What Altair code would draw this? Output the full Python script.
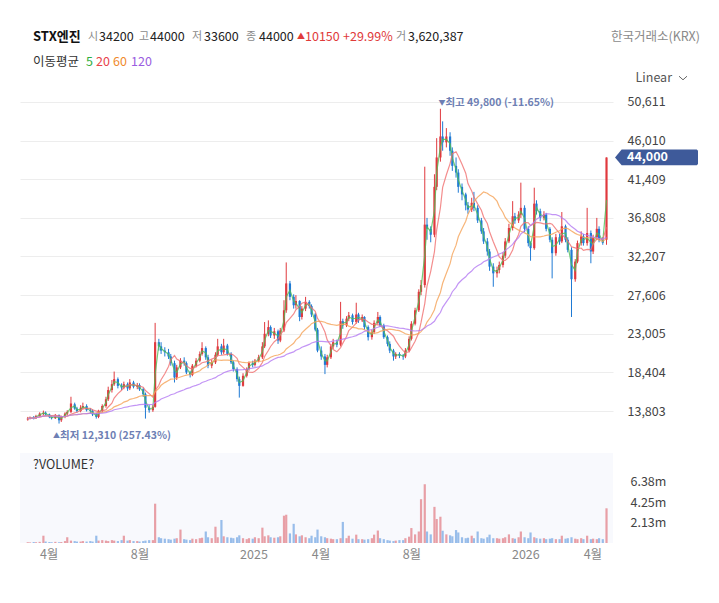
import altair as alt
import numpy as np
import pandas as pd

FONT = "Noto Sans CJK KR"

# ---- candles (3 trading days per candle) ----
OPEN = [
    12800, 12900, 13050, 12950, 13200, 13450, 13600, 13400, 13100, 12950,
    13300, 12700, 13100, 13500, 13700, 14600, 14100, 13800, 14200, 14400,
    13900, 13800, 13400, 13100, 13800, 14400, 15200, 16300, 17000, 17600,
    16800, 16600, 17000, 16500, 17200, 16700, 16900, 16400, 15800, 14200,
    13900, 14300, 22000, 21500, 21000, 20800, 20300, 19500, 17800, 19000,
    19800, 19500, 18400, 18100, 19200, 19800, 20600, 21300, 20200, 19200,
    19600, 20500, 21500, 20800, 21600, 20600, 19600, 18800, 17600, 16800,
    18000, 18800, 19500, 19300, 19800, 20200, 21500, 23000, 23800, 22800,
    23300, 22200, 23400, 25800, 29000, 27400, 26400, 26900, 25000, 26000,
    26800, 26300, 25300, 23500, 21000, 20300, 19300, 20200, 21500, 22000,
    21700, 24500, 24000, 24800, 25200, 24400, 25300, 24600, 25000, 23800,
    22600, 23200, 24300, 25000, 24000, 22600, 21800, 21000, 20300, 20600,
    20400, 20300, 21000, 22400, 24200, 25800, 28000, 28800, 36000, 35500,
    34800, 40500, 44000, 46500, 45800, 46500, 44800, 43000, 42200, 40500,
    39600, 38300, 37800, 38600, 38000, 36500, 35200, 34000, 32800, 31000,
    30200, 30600, 31200, 32300, 34000, 35600, 37000, 36500, 37200, 38000,
    35500, 33800, 33200, 38500, 37600, 36800, 37200, 35500, 34200, 32600,
    34500, 34000, 35800, 34200, 33000, 29500, 31600, 33800, 34600, 33800,
    35000, 32800, 34500, 35500, 34200, 34200,
]
HIGH = [
    13100, 13150, 13200, 13350, 13650, 13850, 13750, 13500, 13250, 13450,
    13400, 13250, 13650, 13900, 15500, 14800, 14300, 14500, 14800, 14600,
    14150, 14000, 13600, 13950, 14600, 15500, 16700, 17500, 18500, 17800,
    17100, 17300, 17200, 17600, 17400, 17150, 17100, 16600, 16000, 14500,
    14500, 24300, 22400, 22000, 21400, 21200, 20600, 19800, 19300, 20100,
    20200, 19700, 18600, 19400, 20100, 20900, 22000, 21500, 20500, 19900,
    20800, 22400, 21800, 22400, 21800, 20800, 19800, 19000, 17900, 18300,
    19000, 19700, 19800, 20000, 20500, 22000, 24400, 24600, 24000, 23700,
    23500, 23700, 27000, 31500, 29300, 27700, 27600, 27000, 26300, 27400,
    27000, 26500, 25500, 23700, 21500, 20600, 20500, 21800, 22400, 22300,
    26800, 24800, 25100, 25600, 25400, 26700, 25500, 25300, 25100, 24000,
    23500, 24600, 25600, 25200, 24200, 22800, 22100, 21200, 20800, 20800,
    20600, 21300, 22700, 24500, 26100, 28300, 29400, 42900, 36800, 35800,
    42000, 46300, 49800, 48300, 47500, 47000, 45200, 44000, 42600, 40900,
    39800, 38700, 39200, 39900, 38300, 36800, 35600, 34400, 33100, 31400,
    31000, 31600, 32700, 34400, 36100, 38800, 37400, 37600, 41000, 38300,
    35800, 34000, 40400, 38900, 37900, 37600, 37400, 35700, 34500, 34900,
    34900, 37500, 36000, 34500, 33300, 31900, 34100, 35200, 34900, 38000,
    35300, 34800, 36800, 35800, 34500, 44000,
]
LOW = [
    12650, 12800, 12800, 12850, 13100, 13300, 13250, 12950, 12800, 12850,
    12310, 12500, 12950, 13300, 13550, 13950, 13600, 13650, 14000, 13750,
    13550, 13200, 12900, 12950, 13650, 14200, 15000, 16000, 16800, 16500,
    16300, 16400, 16200, 16300, 16500, 16400, 16200, 15500, 12900, 13600,
    13700, 14200, 21000, 20600, 20300, 20000, 19200, 17200, 17500, 18800,
    19200, 18200, 17800, 17950, 19000, 19600, 20400, 19900, 18900, 18900,
    19400, 20300, 20500, 20600, 20400, 19400, 18500, 17300, 15400, 16700,
    17800, 18600, 19000, 19100, 19600, 20000, 21300, 22700, 22500, 22400,
    21800, 22000, 23200, 25500, 27000, 26000, 26000, 24500, 24700, 25700,
    26000, 25000, 23300, 20800, 19900, 18200, 19000, 20000, 21200, 21400,
    21500, 23600, 23800, 24500, 24100, 24200, 24300, 24400, 23500, 22200,
    22300, 23000, 24100, 23800, 22400, 21500, 20700, 19800, 20000, 20100,
    19900, 20100, 20800, 22200, 24000, 25600, 27600, 28500, 34200, 33900,
    34500, 40100, 43500, 44800, 45200, 44200, 42400, 41600, 39800, 38900,
    37700, 37300, 37500, 37600, 36200, 34900, 33700, 32300, 30500, 28600,
    29700, 30200, 30900, 32000, 33800, 35300, 36100, 36200, 36800, 35100,
    33400, 31700, 33000, 37200, 36400, 36500, 35200, 33900, 29600, 32300,
    33600, 33800, 33900, 32700, 25000, 29200, 31400, 33500, 33500, 33500,
    31400, 32500, 34200, 33900, 33600, 33600,
]
CLOSE = [
    12900, 13000, 12950, 13200, 13500, 13600, 13400, 13100, 12950, 13300,
    12700, 13100, 13500, 13700, 14700, 14100, 13800, 14200, 14400, 13900,
    13800, 13400, 13100, 13800, 14400, 15200, 16300, 17000, 17600, 16800,
    16600, 17000, 16500, 17200, 16700, 16900, 16400, 15800, 14200, 13900,
    14300, 22000, 21500, 21000, 20800, 20300, 19500, 17800, 19000, 19800,
    19500, 18400, 18100, 19200, 19800, 20600, 21300, 20200, 19200, 19600,
    20500, 21500, 20800, 21600, 20600, 19600, 18800, 17600, 16800, 18000,
    18800, 19500, 19300, 19800, 20200, 21500, 23000, 23800, 22800, 23300,
    22200, 23400, 25800, 29000, 27400, 26400, 26900, 25000, 26000, 26800,
    26300, 25300, 23500, 21000, 20300, 19300, 20200, 21500, 22000, 21700,
    24500, 24000, 24800, 25200, 24400, 25300, 24600, 25000, 23800, 22600,
    23200, 24300, 25000, 24000, 22600, 21800, 21000, 20300, 20600, 20400,
    20300, 21000, 22400, 24200, 25800, 28000, 28800, 36000, 35500, 34800,
    40500, 44000, 46500, 45800, 46500, 44800, 43000, 42200, 40500, 39600,
    38300, 37800, 38600, 38000, 36500, 35200, 34000, 32800, 31000, 30200,
    30600, 31200, 32300, 34000, 35600, 37000, 36500, 37200, 38000, 35500,
    33800, 33200, 38500, 37600, 36800, 37200, 35500, 34200, 32600, 34500,
    34000, 35800, 34200, 33000, 29500, 31600, 33800, 34600, 33800, 35000,
    32800, 34500, 35500, 34200, 33850, 44000,
]
VOLUME_M = [
    0.08, 0.06, 0.10, 0.08, 0.12, 0.76, 0.15, 0.10, 0.08, 0.12,
    0.08, 0.10, 0.20, 0.60, 0.25, 0.20, 0.15, 0.15, 0.20, 0.15,
    0.20, 0.15, 0.76, 0.25, 0.30, 0.25, 0.20, 0.30, 0.25, 0.20,
    0.30, 0.76, 0.25, 0.30, 0.20, 0.20, 0.15, 0.20, 0.25, 0.30,
    0.30, 4.10, 0.60, 0.50, 0.45, 0.40, 0.35, 0.45, 0.50, 1.40,
    0.40, 0.35, 0.30, 0.45, 0.40, 0.50, 0.55, 1.20, 0.60, 0.50,
    1.70, 0.60, 2.40, 0.70, 0.60, 0.55, 0.50, 0.60, 0.80, 0.50,
    0.40, 0.50, 0.45, 0.60, 0.50, 1.60, 0.70, 0.80, 0.60, 0.55,
    0.60, 0.70, 2.85, 2.95, 1.00, 2.00, 0.90, 0.70, 0.80, 0.60,
    0.50, 0.76, 0.60, 1.40, 0.70, 0.60, 0.50, 0.45, 0.40, 0.40,
    0.50, 2.20, 0.50, 0.76, 0.45, 0.87, 0.40, 0.40, 0.35, 0.40,
    0.50, 0.87, 1.30, 0.50, 0.40, 0.30, 0.25, 0.20, 0.25, 0.30,
    0.30, 0.50, 0.66, 1.56, 0.90, 1.20, 4.57, 6.13, 1.20, 0.90,
    3.77, 2.50, 2.74, 1.28, 0.90, 0.80, 0.70, 1.35, 1.10, 0.60,
    0.50, 0.55, 0.76, 0.50, 1.20, 0.50, 0.45, 0.60, 0.87, 0.50,
    0.50, 0.45, 0.50, 0.60, 0.90, 0.50, 0.45, 0.60, 1.20, 0.60,
    0.50, 1.10, 0.60, 0.50, 0.45, 0.50, 0.40, 0.45, 0.50, 0.40,
    0.40, 0.76, 0.45, 0.50, 0.60, 0.45, 0.40, 0.50, 0.40, 0.76,
    0.40, 0.45, 0.40, 0.50, 0.40, 3.620387,
]

Y_TICKS = [13803, 18404, 23005, 27606, 32207, 36808, 41409, 46010, 50611]
VOL_TICKS = [2.13, 4.25, 6.38]
MONTH_TICKS = [(2024, 4), (2024, 8), (2025, 1), (2025, 4), (2025, 8), (2026, 1), (2026, 4)]
MA_DAYS = [5, 20, 60, 120]
MA_COLORS = ["#4fbf58", "#f07070", "#f5a257", "#b47af2"]
MA_TEXT_COLORS = ["#2fae3c", "#e8424a", "#f08a2c", "#9a5de0"]

RED = "#e0393e"
BLUE = "#1f7ad4"
ANN = "#6e7fb4"
TAG = "#3e5a9a"

# ---- table ----
dates = pd.bdate_range(end="2026-04-20", periods=3 * (len(CLOSE) - 1) + 1)[::3]
df = pd.DataFrame({
    "date": dates.strftime("%Y-%m-%dT%H:%M:%S"),
    "open": OPEN, "high": HIGH, "low": LOW, "close": CLOSE, "vol": VOLUME_M,
})
df["dir"] = np.where(df["close"] >= df["open"], "up", "down")

xscale = alt.Scale(domain=[alt.DateTime(year=2024, month=2, date=29, hours=7),
                           alt.DateTime(year=2026, month=4, date=22)])
yscale = alt.Scale(domain=[9398, 60372], nice=False, zero=False)
yaxis = alt.Axis(orient="right", values=Y_TICKS, format=",d", grid=True,
                 gridColor="#ededed", gridWidth=1, ticks=False, tickSize=0,
                 domain=False, labelPadding=14, labelFontSize=12.5,
                 labelColor="#444", labelFont=FONT, title=None)


def X():
    return alt.X("date:T", scale=xscale, axis=None)


def Yp(field):
    return alt.Y(f"{field}:Q", scale=yscale, axis=yaxis)


base = alt.Chart(df)
layers = []
for d, col in [("up", RED), ("down", BLUE)]:
    layers.append(base.transform_filter(alt.datum.dir == d)
                  .mark_rule(color=col, strokeWidth=1)
                  .encode(x=X(), y=Yp("low"), y2="high:Q"))
for d, col in [("up", RED), ("down", BLUE)]:
    layers.append(base.transform_filter(alt.datum.dir == d)
                  .mark_bar(color=col, size=2.2)
                  .encode(x=X(), y=Yp("open"), y2="close:Q"))
for days, col in zip(MA_DAYS, MA_COLORS):
    n = max(1, round(days / 3))
    layers.append(base.transform_window(ma="mean(close)", frame=[-(n - 1), 0],
                                        sort=[alt.SortField("date")])
                  .mark_line(color=col, strokeWidth=1.2, opacity=0.8)
                  .encode(x=X(), y=Yp("ma")))

# high / low annotations
imax = int(np.argmax(HIGH))
imin = int(np.argmin(LOW))
last = CLOSE[-1]
max_df = pd.DataFrame({"date": [df["date"][imax]], "v": [HIGH[imax]]})
min_df = pd.DataFrame({"date": [df["date"][imin]], "v": [LOW[imin]]})
max_txt = f"최고 {HIGH[imax]:,} ({(last - HIGH[imax]) / HIGH[imax] * 100:.2f}%)"
min_txt = f"최저 {LOW[imin]:,} ({(last - LOW[imin]) / LOW[imin] * 100:.2f}%)"
for dfa, tri, txt, dy, dx0 in [(max_df, "▼", max_txt, -6, -2), (min_df, "▲", min_txt, 12, -6)]:
    layers.append(alt.Chart(dfa).mark_text(text=tri, dx=dx0, dy=dy, fontSize=7, color=ANN,
                                           align="left", baseline="middle", font=FONT)
                  .encode(x=X(), y=Yp("v")))
    layers.append(alt.Chart(dfa).mark_text(text=txt, dx=dx0 + 7, dy=dy, fontSize=10.5,
                                           color=ANN, fontWeight="bold", align="left",
                                           baseline="middle", font=FONT)
                  .encode(x=X(), y=Yp("v")))

# last price tag
last_df = df.tail(1)
TAG_PATH = "M-1,0L-0.84,-0.19L0.97,-0.19L1,-0.16L1,0.16L0.97,0.19L-0.84,0.19Z"
layers.append(alt.Chart(last_df).mark_point(shape=TAG_PATH, size=83 * 83, filled=True,
                                            color=TAG, opacity=1, strokeWidth=0)
              .encode(x=alt.value(636.5), y=Yp("close")))
layers.append(alt.Chart(last_df).mark_text(align="left", baseline="middle", color="white",
                                           fontSize=12.5, fontWeight="bold", font=FONT)
              .encode(x=alt.value(607), y=Yp("close"), text=alt.Text("close:Q", format=",d")))

ONE = pd.DataFrame({"k": [0]})


def label(text, x, y, color="#222", size=12.5, weight="normal", align="left"):
    return (alt.Chart(ONE).mark_text(text=text, color=color, fontSize=size, fontWeight=weight,
                                     align=align, baseline="middle", font=FONT)
            .encode(x=alt.value(x), y=alt.value(y)))


GREY = "#8a8a8a"
HRED = "#e03a3a"
chg = CLOSE[-1] - CLOSE[-2]
pct = chg / CLOSE[-2] * 100
header = [
    label("STX엔진", 13, 17, "#111", 13, "bold"),
    label("시", 68, 17, GREY, 11), label(f"{OPEN[-1]}", 79, 17),
    label("고", 119, 17, GREY, 11), label(f"{HIGH[-1]}", 130, 17),
    label("저", 172, 17, GREY, 11), label(f"{LOW[-1]}", 184, 17),
    label("종", 226, 17, GREY, 11), label(f"{CLOSE[-1]}", 239, 17),
    label("▲", 277, 17, HRED, 8), label(f"{chg}", 285, 17, HRED),
    label(f"+{pct:.2f}%", 323, 17, HRED),
    label("거", 376, 17, GREY, 11), label(f"{round(VOLUME_M[-1] * 1e6):,}", 388, 17),
    label("한국거래소(KRX)", 680, 17, GREY, 12.5, "normal", "right"),
    label("이동평균", 13, 42, "#333"),
]
for name, xx, col in zip(MA_DAYS, [66, 76, 93, 111], MA_TEXT_COLORS):
    header.append(label(str(name), xx, 42, col))
header.append(label("Linear", 652, 58, "#555", 12.5, "normal", "right"))
header.append(alt.Chart(ONE).mark_point(shape="M-1,-0.45L0,0.45L1,-0.45", filled=False,
                                        size=64, color="#666", strokeWidth=1, opacity=1)
              .encode(x=alt.value(663), y=alt.value(58)))

price = alt.layer(*layers, *header).properties(width=593, height=428)

# ---- volume panel ----
xaxis = alt.Axis(values=[alt.DateTime(year=y, month=m, date=1) for y, m in MONTH_TICKS],
                 labelExpr="month(datum.value) == 0 ? timeFormat(datum.value, '%Y') : (month(datum.value) + 1) + '월'",
                 ticks=False, tickSize=0, domain=False, grid=False, labelPadding=5,
                 labelColor="#888", labelFontSize=12.5, labelFont=FONT, title=None,
                 labelOverlap=False, labelFlush=False)
vaxis = alt.Axis(orient="right", values=VOL_TICKS, labelExpr="format(datum.value, '.2f') + 'm'",
                 ticks=False, tickSize=0, domain=False, grid=False, labelPadding=17,
                 labelColor="#444", labelFontSize=12.5, labelFont=FONT, title=None)
vscale = alt.Scale(domain=[0, 9.39], nice=False)
vlayers = []
for d, col in [("up", "#e6959c"), ("down", "#8db6e8")]:
    vlayers.append(base.transform_filter(alt.datum.dir == d)
                   .mark_bar(color=col, size=2.2, opacity=0.9)
                   .encode(x=alt.X("date:T", scale=xscale, axis=xaxis),
                           y=alt.Y("vol:Q", scale=vscale, axis=vaxis)))
vlayers.append(label("?VOLUME?", 13, 12, "#333", 12.5))
volume = alt.layer(*vlayers).properties(width=593, height=90,
                                         view=alt.ViewBackground(fill="#f8f9fd", strokeWidth=0))

chart = (alt.vconcat(price, volume, spacing=5, bounds="flush")
         .properties(padding={"left": 12, "top": 12, "right": 5, "bottom": 5},
                     background="white")
         .configure_view(strokeWidth=0))

chart.save("out.html", embed_options={"renderer": "svg", "actions": False})
